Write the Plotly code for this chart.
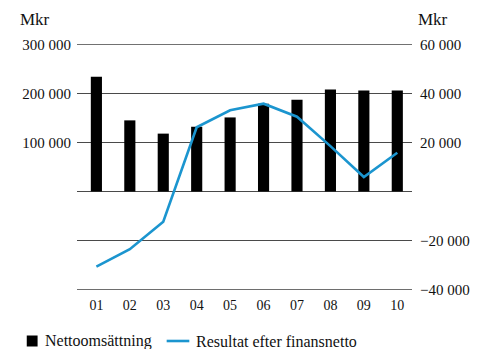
import plotly.graph_objects as go

# Years (2001-2010) shown as two-digit labels
years = ["01", "02", "03", "04", "05", "06", "07", "08", "09", "10"]
# Net sales, MSEK (left axis)
nettoomsattning = [234000, 145000, 118000, 132000, 151000, 179000, 187000, 208000, 206000, 206000]
# Profit after financial items, MSEK (right axis)
resultat = [-30600, -23500, -12300, 26200, 33100, 35800, 30500, 18500, 5900, 15800]

left_ticks = [300000, 200000, 100000, 0, -100000, -200000]
left_text = ["300 000", "200 000", "100 000", "", "", ""]
right_ticks = [60000, 40000, 20000, -20000, -40000]
right_text = ["60 000", "40 000", "20 000", "\u221220 000", "\u221240 000"]

FONT = "Liberation Serif"
BLUE = "#1b95cf"
TEXT = "#111111"
GRID = "#4a4a4a"
x = list(range(1, len(years) + 1))

# plot area in pixels
L, R, T, B, W, H = 77, 65, 44, 59, 482, 349
PW, PH = W - L - R, H - T - B


def px(xp):
    return (xp - L) / PW


def py(yp):
    return (H - B - yp) / PH


fig = go.Figure()
fig.add_trace(go.Bar(
    x=x, y=nettoomsattning, name="Nettoomsättning",
    marker=dict(color="#000000", line=dict(width=0)),
    width=0.333, yaxis="y", showlegend=False,
))
fig.add_trace(go.Scatter(
    x=x, y=resultat, name="Resultat efter finansnetto",
    mode="lines", line=dict(color=BLUE, width=2.6),
    yaxis="y2", showlegend=False,
))

# gridlines at the top and bottom edges of the value range
shapes = [
    dict(type="line", xref="paper", yref="y", x0=0, x1=1, y0=v, y1=v,
         layer="below", line=dict(color=GRID, width=1))
    for v in (left_ticks[0], left_ticks[-1])
]

# legend row drawn below the chart
legend_y = 341
shapes += [
    dict(type="rect", xref="paper", yref="paper",
         x0=px(26), x1=px(37), y0=py(346.5), y1=py(335.5),
         fillcolor="#000000", line=dict(width=0)),
    dict(type="line", xref="paper", yref="paper",
         x0=px(168), x1=px(191), y0=py(legend_y), y1=py(legend_y),
         line=dict(color=BLUE, width=2.6)),
]
annotations = [
    dict(text="Nettoomsättning", xref="paper", yref="paper", x=px(42), y=py(legend_y),
         xanchor="left", yanchor="middle", showarrow=False,
         font=dict(family=FONT, size=16, color=TEXT)),
    dict(text="Resultat efter finansnetto", xref="paper", yref="paper", x=px(196), y=py(legend_y),
         xanchor="left", yanchor="middle", showarrow=False,
         font=dict(family=FONT, size=16, color=TEXT)),
    dict(text="Mkr", xref="paper", yref="paper", x=px(17), y=py(20),
         xanchor="left", yanchor="middle", showarrow=False,
         font=dict(family=FONT, size=17, color=TEXT)),
    dict(text="Mkr", xref="paper", yref="paper", x=px(421), y=py(20),
         xanchor="left", yanchor="middle", showarrow=False,
         font=dict(family=FONT, size=17, color=TEXT)),
]

fig.update_layout(
    width=W, height=H,
    margin=dict(l=L, r=R, t=T, b=B),
    paper_bgcolor="white", plot_bgcolor="white",
    font=dict(family=FONT, size=14, color=TEXT),
    showlegend=False,
    xaxis=dict(
        tickmode="array", tickvals=x, ticktext=years,
        range=[0.42, 10.44], showgrid=False, zeroline=False, showline=False,
        ticks="", tickfont=dict(size=14), ticklabelstandoff=5,
    ),
    yaxis=dict(
        range=[-200600, 300600], tickmode="array",
        tickvals=left_ticks, ticktext=left_text,
        showgrid=True, gridcolor=GRID, gridwidth=1,
        zeroline=False, showline=False, ticks="",
        ticklabelstandoff=5, tickfont=dict(size=15),
    ),
    yaxis2=dict(
        range=[-40120, 60120], overlaying="y", side="right",
        tickmode="array", tickvals=right_ticks, ticktext=right_text,
        showgrid=False, zeroline=False, showline=False, ticks="",
        ticklabelstandoff=7, tickfont=dict(size=15),
    ),
    shapes=shapes,
    annotations=annotations,
)

fig.write_html("out.html")
